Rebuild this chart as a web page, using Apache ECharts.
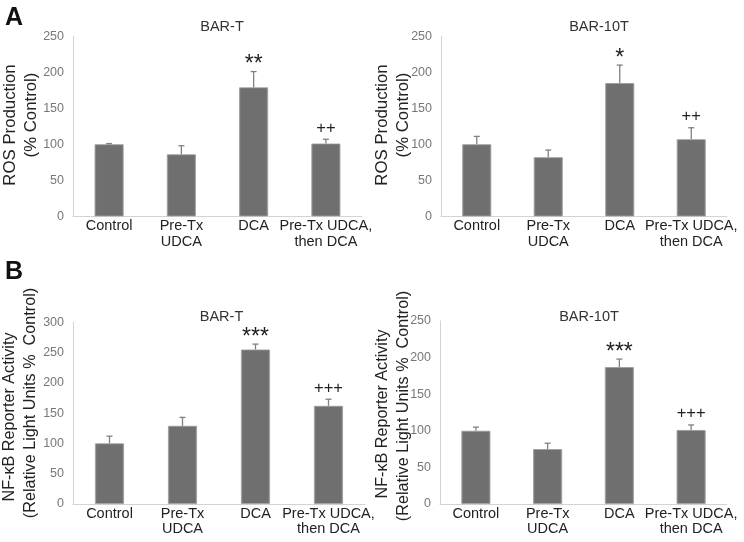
<!DOCTYPE html>
<html><head><meta charset="utf-8">
<script src="https://cdn.jsdelivr.net/npm/echarts@6/dist/echarts.min.js"></script>
<style>html,body{margin:0;padding:0;background:#fff}#c{width:744px;height:542px}</style>
</head><body><div id="c"></div>
<script>
// ---- data ----
const categories = ['Control', 'Pre-Tx\nUDCA', 'DCA', 'Pre-Tx UDCA,\nthen DCA'];
const rosBarT = [100, 86, 179, 101];
const rosBarTErrTop = [101, 98, 201, 107];
const rosBarTMarks = ['', '', '**', '++'];
const rosBar10T = [100, 82, 185, 107];
const rosBar10TErrTop = [111, 92, 210, 123];
const rosBar10TMarks = ['', '', '*', '++'];
const nfkbBarT = [100, 129, 255, 162];
const nfkbBarTErrTop = [112, 143, 264, 173];
const nfkbBarTMarks = ['', '', '***', '+++'];
const nfkbBar10T = [100, 75, 187, 101];
const nfkbBar10TErrTop = [105, 83, 198, 108];
const nfkbBar10TMarks = ['', '', '***', '+++'];
const rosTicks = {min: 0, max: 250, interval: 50};
const nfkbTTicks = {min: 0, max: 300, interval: 50};
const nfkb10TTicks = {min: 0, max: 250, interval: 50};

const FONT = '"Liberation Sans", Arial, sans-serif';
const panels = [
  {vals: rosBarT, err: rosBarTErrTop, marks: rosBarTMarks, ticks: rosTicks, grid: {left: 73, top: 36.3, width: 289, height: 180}},
  {vals: rosBar10T, err: rosBar10TErrTop, marks: rosBar10TMarks, ticks: rosTicks, grid: {left: 441, top: 36.3, width: 286, height: 180}},
  {vals: nfkbBarT, err: nfkbBarTErrTop, marks: nfkbBarTMarks, ticks: nfkbTTicks, grid: {left: 73, top: 322.3, width: 292, height: 181.7}},
  {vals: nfkbBar10T, err: nfkbBar10TErrTop, marks: nfkbBar10TMarks, ticks: nfkb10TTicks, grid: {left: 440, top: 321, width: 287, height: 183}}
];

const grid = [], xAxis = [], yAxis = [], series = [];
panels.forEach((p, k) => {
  grid.push(Object.assign({containLabel: false}, p.grid));
  xAxis.push({
    type: 'category', gridIndex: k, data: categories,
    axisLine: {lineStyle: {color: '#d3d3d3', width: 1}},
    axisTick: {show: false},
    axisLabel: {color: '#222', fontSize: 14.5, fontFamily: FONT, lineHeight: 15.5, margin: 2, interval: 0}
  });
  yAxis.push({
    type: 'value', gridIndex: k, min: p.ticks.min, max: p.ticks.max, interval: p.ticks.interval,
    axisLine: {show: true, lineStyle: {color: '#d3d3d3', width: 1}},
    axisTick: {show: false},
    splitLine: {show: false},
    axisLabel: {color: '#777', fontSize: 12.5, fontFamily: FONT, margin: 9}
  });
  series.push({
    type: 'bar', xAxisIndex: k, yAxisIndex: k, data: p.vals, barWidth: 29,
    itemStyle: {
      color: {type: 'linear', x: 0, y: 0, x2: 1, y2: 0, colorStops: [
        {offset: 0, color: '#8a8a8a'}, {offset: 0.07, color: '#6f6f6f'},
        {offset: 0.93, color: '#6f6f6f'}, {offset: 1, color: '#8a8a8a'}]},
      borderColor: '#9a9a9a', borderWidth: 0.8
    },
    z: 2
  });
  series.push({
    type: 'custom', xAxisIndex: k, yAxisIndex: k, z: 3,
    data: p.vals.map((v, i) => [i, v, p.err[i]]),
    renderItem: function (params, api) {
      const i = api.value(0);
      const base = api.coord([i, api.value(1)]);
      const top = api.coord([i, api.value(2)]);
      const x = base[0];
      const children = [
        {type: 'line', shape: {x1: x, y1: base[1], x2: x, y2: top[1]}, style: {stroke: '#808080', lineWidth: 1.3}},
        {type: 'line', shape: {x1: x - 3, y1: top[1], x2: x + 3, y2: top[1]}, style: {stroke: '#808080', lineWidth: 1.3}}
      ];
      const m = p.marks[params.dataIndex];
      if (m) {
        const isStar = m.indexOf('*') >= 0;
        children.push({
          type: 'text', x: x, y: top[1] - (isStar ? 6.5 : 11),
          style: {text: m, font: (isStar ? '23px ' : '16.5px ') + FONT, fill: '#222',
            textAlign: 'center', textVerticalAlign: 'middle', align: 'center', verticalAlign: 'middle'}
        });
      }
      return {type: 'group', children: children};
    }
  });
});

function txt(text, x, y, size, opts) {
  opts = opts || {};
  return {
    type: 'text', x: x, y: y, rotation: opts.rot ? Math.PI / 2 : 0, z: 10,
    style: {text: text, font: (opts.bold ? 'bold ' : '') + size + 'px ' + FONT, fill: opts.fill || '#222',
      textAlign: 'center', textVerticalAlign: 'middle', align: 'center', verticalAlign: 'middle'}
  };
}

const graphics = [
  txt('A', 14, 18, 25, {bold: true, fill: '#111'}),
  txt('B', 14, 272, 25, {bold: true, fill: '#111'}),
  txt('BAR-T', 222, 27, 14.5, {fill: '#333'}),
  txt('BAR-10T', 599, 27, 14.5, {fill: '#333'}),
  txt('BAR-T', 221.5, 317, 14.5, {fill: '#333'}),
  txt('BAR-10T', 589, 317, 14.5, {fill: '#333'}),
  txt('ROS Production', 10, 125, 16.8, {rot: true}),
  txt('(% Control)', 31, 115, 16.8, {rot: true}),
  txt('ROS Production', 382, 125, 16.8, {rot: true}),
  txt('(% Control)', 403, 115, 16.8, {rot: true}),
  txt('NF-κB Reporter Activity', 10, 417, 16.2, {rot: true}),
  txt('(Relative Light Units %  Control)', 31, 403, 16.2, {rot: true}),
  txt('NF-κB Reporter Activity', 383, 414, 16.2, {rot: true}),
  txt('(Relative Light Units %  Control)', 404, 406, 16.2, {rot: true})
];

const chart = echarts.init(document.getElementById('c'), null, {renderer: 'canvas'});
chart.setOption({
  animation: false,
  backgroundColor: '#fff',
  grid: grid, xAxis: xAxis, yAxis: yAxis, series: series,
  graphic: graphics
});
</script>
</body></html>
